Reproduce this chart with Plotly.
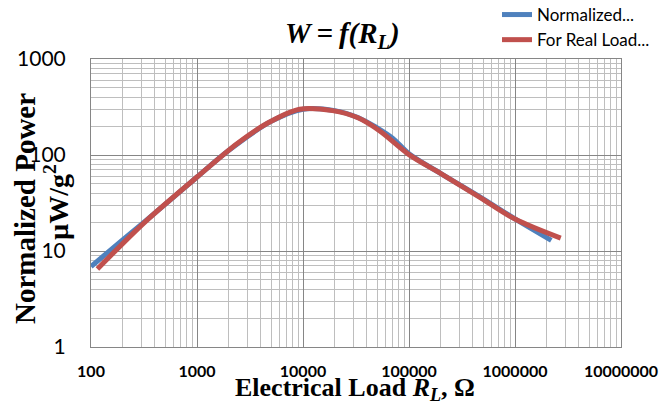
import plotly.graph_objects as go

# Load resistance (ohm) and normalized output power (uW/g^2)
normalized_r = [100, 200, 500, 1000, 2000, 5000, 10000, 20000, 33000, 50000,
                70000, 100000, 200000, 500000, 1000000, 2200000]
normalized_w = [6.9, 13.1, 30.6, 59, 112, 224, 300, 290, 246, 192,
                150, 103, 64, 35, 21.6, 12.9]

real_r = [115, 330, 1000, 2400, 4600, 9300, 19000, 33000, 53000, 100000,
          200000, 470000, 1000000, 2700000]
real_w = [6.5, 20.5, 59, 132, 214, 300, 290, 244, 178, 101,
          64, 36, 21.5, 13.6]

x_tickvals = [100, 1000, 10000, 100000, 1000000, 10000000]
x_ticktext = ["100", "1000", "10000", "100000", "1000000", "10000000"]
y_tickvals = [1, 10, 100, 1000]
y_ticktext = ["1", "10", "100", "1000"]

BLUE = "#4F81BD"
RED = "#C0504D"
MAJOR = "#868686"
MINOR = "#BEBEBE"
SERIF = "Liberation Serif, Times New Roman, serif"
SANS = "Lato, Liberation Sans, sans-serif"

fig = go.Figure()
fig.add_trace(go.Scatter(
    x=normalized_r, y=normalized_w, mode="lines", name="Normalized...",
    line=dict(color=BLUE, width=5, shape="spline", smoothing=0.9),
))
fig.add_trace(go.Scatter(
    x=real_r, y=real_w, mode="lines", name="For Real Load...",
    line=dict(color=RED, width=5, shape="spline", smoothing=0.9),
))

axis_common = dict(
    type="log",
    showgrid=True, gridcolor=MAJOR, gridwidth=1,
    showline=True, linecolor=MAJOR, linewidth=1, mirror=True,
    ticks="", zeroline=False,
    minor=dict(dtick="D1", showgrid=True, gridcolor=MINOR, gridwidth=1, ticks=""),
)

fig.update_xaxes(
    **axis_common,
    range=[2, 7],
    tickvals=x_tickvals, ticktext=x_ticktext,
    ticklabelstandoff=10,
    tickfont=dict(family=SANS, size=16, color="#000000", weight="bold"),
)
fig.update_yaxes(
    **axis_common,
    range=[0, 3],
    tickvals=y_tickvals, ticktext=y_ticktext,
    ticklabelstandoff=20,
    tickfont=dict(family=SANS, size=21, color="#000000"),
)

# plot area spans pixels x 91..621, y 59..347
L, R, T, B = 91, 621, 59, 347
W, H = 668, 407


def px(x):
    return (x - L) / (R - L)


def py(y):
    return (B - y) / (B - T)


fig.update_layout(
    width=W, height=H,
    margin=dict(l=L, r=W - R, t=T, b=H - B, autoexpand=False),
    paper_bgcolor="white", plot_bgcolor="white",
    showlegend=True,
    legend=dict(
        x=px(497), y=py(-3), xanchor="left", yanchor="top",
        font=dict(family=SANS, size=17, color="#000000"),
        bgcolor="rgba(0,0,0,0)", tracegroupgap=0,
    ),
    annotations=[
        dict(text="<b><i>W\u2009=\u2009f(R<sub>L</sub>)</i></b>", xref="paper", yref="paper",
             x=px(342), y=py(35), xanchor="center", yanchor="middle", showarrow=False,
             font=dict(family=SERIF, size=29, color="#000000")),
        dict(text="<b>Electrical Load <i>R</i><sub><i>L</i></sub>, Ω</b>", xref="paper", yref="paper",
             x=px(355), y=py(389), xanchor="center", yanchor="middle", showarrow=False,
             font=dict(family=SERIF, size=26, color="#000000")),
        dict(text="<b>Normalized Power</b>", xref="paper", yref="paper",
             x=px(25), y=py(209), xanchor="center", yanchor="middle", showarrow=False,
             textangle=-90,
             font=dict(family=SERIF, size=29, color="#000000")),
        dict(text="<b>µW/g<sup>2</sup></b>", xref="paper", yref="paper",
             x=px(56), y=py(202), xanchor="center", yanchor="middle", showarrow=False,
             textangle=-90,
             font=dict(family=SERIF, size=28, color="#000000")),
    ],
)

fig.write_html("out.html")
